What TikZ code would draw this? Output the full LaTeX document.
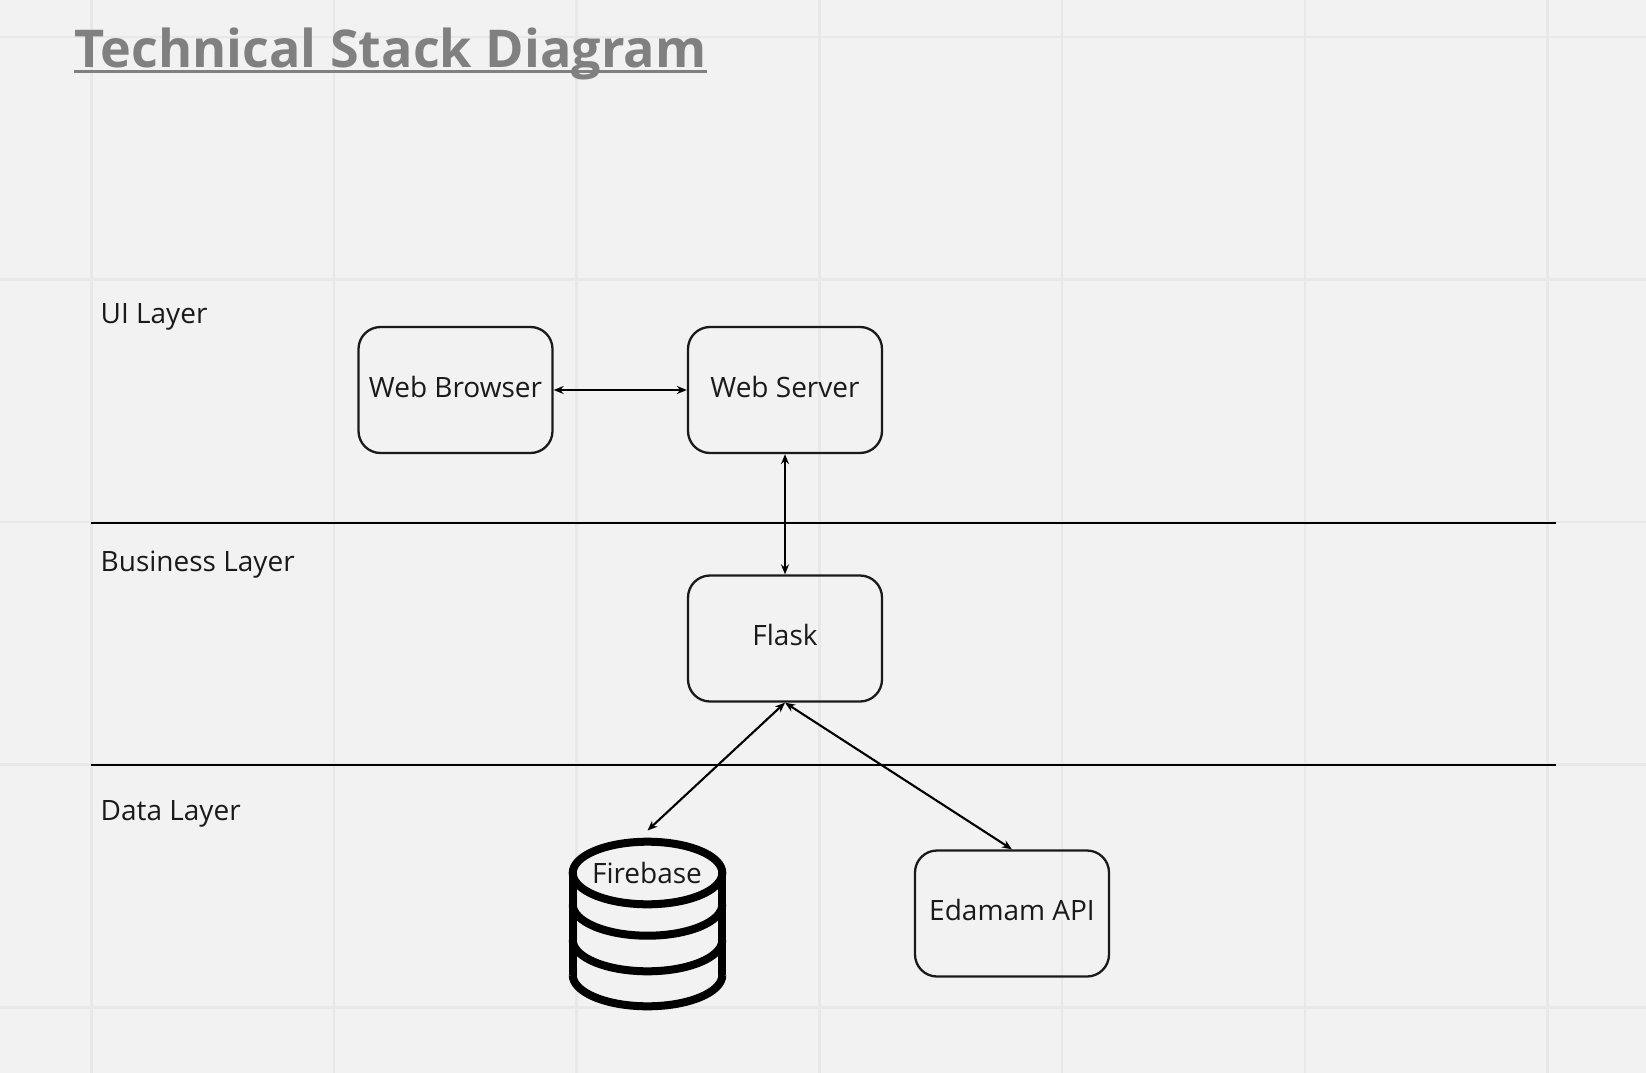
\documentclass[tikz,border=0pt]{standalone}
\usepackage{fontspec}
\setmainfont{Open Sans}
\usetikzlibrary{arrows.meta,calc}
\definecolor{sheetgray}{HTML}{F2F2F2}
\definecolor{gridgray}{HTML}{E8E8E8}
\definecolor{titlegray}{HTML}{808080}
\definecolor{inkblack}{HTML}{1A1A1A}
\tikzset{
    gridline/.style={gridgray, line width=2.2pt},
    layerline/.style={black, line width=2.1pt},
    layerlabel/.style={anchor=base west, inner sep=0pt, text=inkblack, font=\fontsize{28}{32}\selectfont},
    techbox/.style={draw=inkblack, line width=2.3pt, rounded corners=22pt, minimum width=194pt, minimum height=126pt, inner sep=0pt, text=inkblack, text height=14pt, text depth=0pt, font=\fontsize{28}{32}\selectfont},
    link/.style={black, line width=2.1pt, {Stealth[length=10pt,width=8pt]}-{Stealth[length=10pt,width=8pt]}},
    dbstroke/.style={black, line width=8pt}
}
\begin{document}
\begin{tikzpicture}[x=1pt,y=-1pt]

\useasboundingbox[fill=sheetgray] (0,0) rectangle (1646,1073);

\foreach \x in {91.5,334,576.5,819.5,1062,1305,1547.5}
    \draw[gridline] (\x,0) -- (\x,1073);
\foreach \y in {37,279.5,522,764.5,1007.5}
    \draw[gridline] (0,\y) -- (1646,\y);

\node[anchor=base west, inner sep=0pt, text=titlegray, font=\fontsize{52.1}{60}\selectfont\bfseries] (title) at (74,67) {Technical Stack Diagram};
\draw[titlegray, line width=3.6pt] ($(title.base west)+(0,4.6)$) -- ($(title.base east)+(0,4.6)$);

\coordinate (ruleAleft) at (91,523.2);
\coordinate (ruleAright) at (1556,523.2);
\coordinate (ruleBleft) at (91,765.4);
\coordinate (ruleBright) at (1556,765.4);
\draw[layerline] (ruleAleft) -- (ruleAright);
\draw[layerline] (ruleBleft) -- (ruleBright);

\node[layerlabel] (uilayer) at (100.5,323) {UI Layer};
\node[layerlabel] (bizlayer) at (100.5,571) {Business Layer};
\node[layerlabel] (datalayer) at (100.5,820) {Data Layer};

\node[techbox] (browser) at (455.5,390) {Web Browser};
\node[techbox] (server) at (785,390) {Web Server};
\node[techbox] (flask) at (785,638.5) {Flask};
\node[techbox] (edamam) at (1012,913.5) {Edamam API};

\draw[dbstroke] (647.5,873) ellipse [x radius=74.8pt, y radius=31.3pt];
\foreach \cy in {904.4,940,975}
    \draw[dbstroke] (572.7,\cy) arc [start angle=180, end angle=360, x radius=74.8pt, y radius=31.3pt];
\draw[dbstroke] (572.7,873) -- (572.7,975);
\draw[dbstroke] (722.3,873) -- (722.3,975);
\node[inner sep=0pt, text=inkblack, font=\fontsize{28}{32}\selectfont] (firebase) at (647,873) {Firebase};
\coordinate (firebasetop) at (647.5,830.5);

\draw[link] (browser) -- (server);
\draw[link] (server) -- (flask);
\draw[link] (flask.south) -- (firebasetop);
\draw[link] (flask.south) -- (edamam.north);

\end{tikzpicture}
\end{document}
